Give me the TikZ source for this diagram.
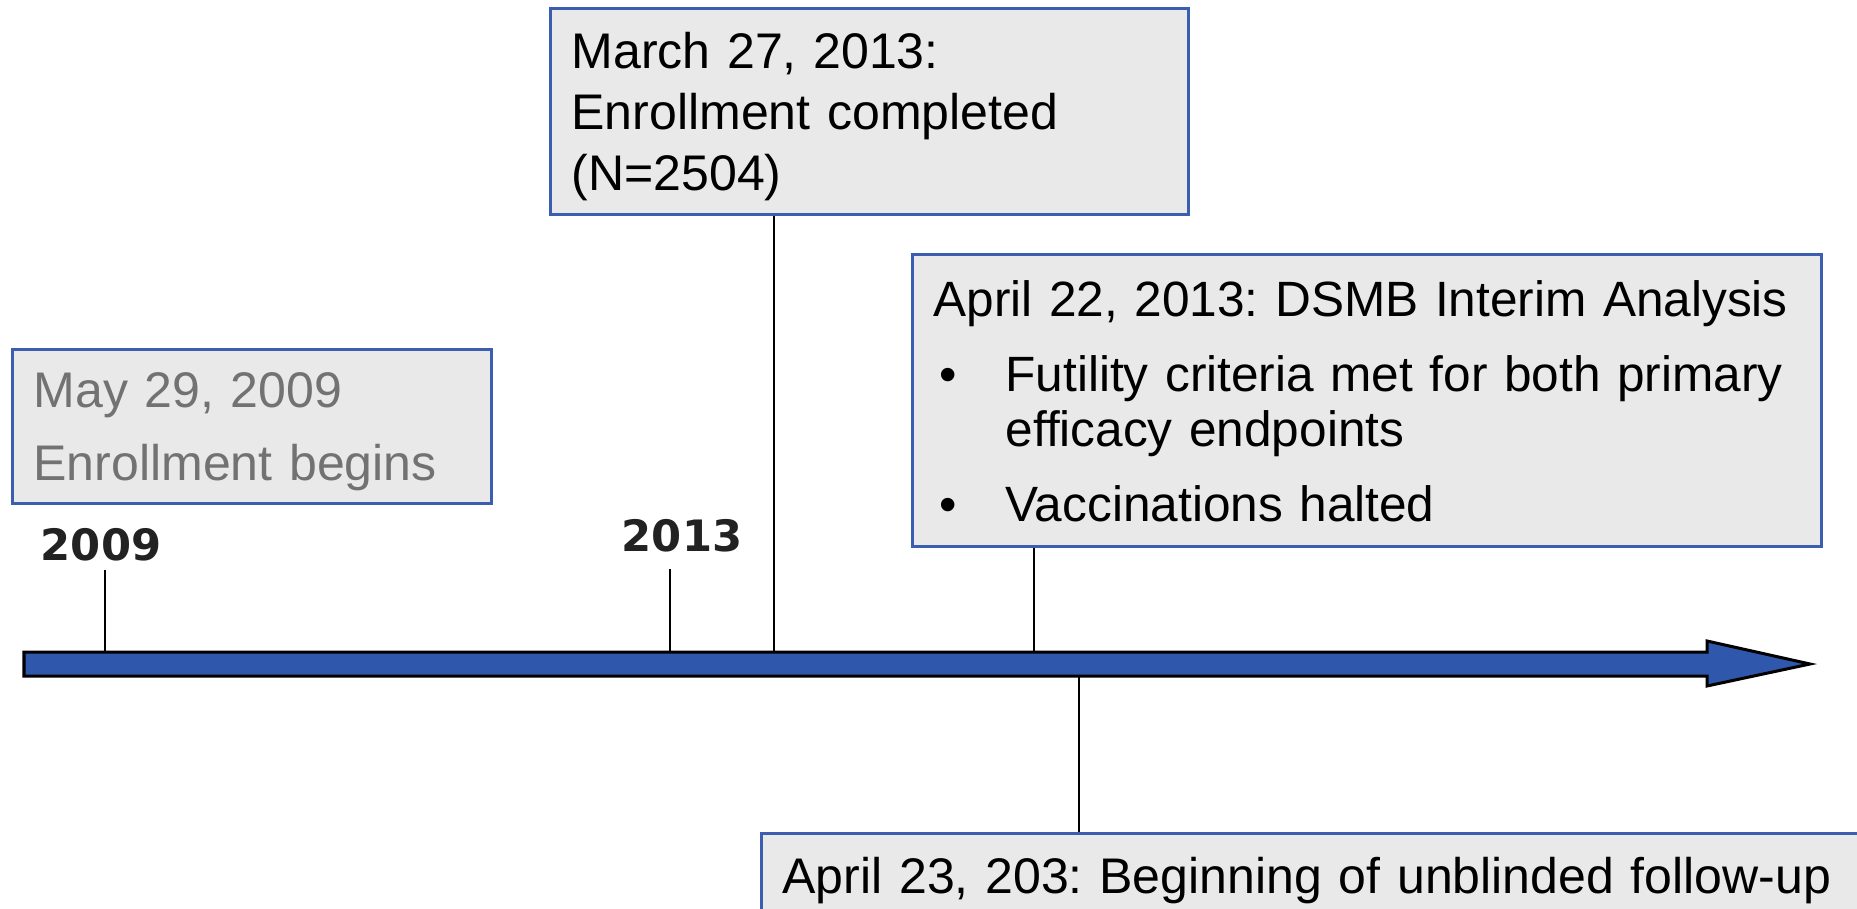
\documentclass[tikz,border=0pt]{standalone}
\usepackage{fontspec}
\setmainfont{Liberation Sans}
\newfontfamily\yearfont{DejaVu Sans}
\usetikzlibrary{calc}
\usetikzlibrary{positioning}
\definecolor{boxfill}{HTML}{E9E9E9}
\definecolor{boxline}{HTML}{3B5EB0}
\definecolor{barfill}{HTML}{2F58AD}
\definecolor{greytext}{HTML}{727272}
\definecolor{yeartext}{HTML}{222222}
\newcommand\padtop[1]{\rule{0pt}{#1}}
\newcommand\padbot[1]{\rule[-#1]{0pt}{0pt}}

\begin{document}
\frenchspacing
\begin{tikzpicture}[x=0.01cm,y=-0.01cm,inner sep=0pt,
  evbox/.style={draw=boxline,fill=boxfill,line width=0.03cm,anchor=north west,
    align=left,inner xsep=0.21cm,inner ysep=0pt,font=\fontsize{14.23}{17.36}\selectfont},
  yearlbl/.style={anchor=base,inner sep=0.09cm,text=yeartext,
    font=\yearfont\bfseries\fontsize{12.3}{14}\selectfont},
  stem/.style={line width=0.02cm}]
\useasboundingbox (0,0) rectangle (1857,909);
\clip (0,0) rectangle (1857,909);

\filldraw[fill=barfill,line width=0.03cm] (24,652) -- (1707,652) -- (1707,641) -- (1810,664)
  -- (1707,686) -- (1707,676) -- (24,676) -- cycle;
\coordinate (t09) at (105,652);
\coordinate (t13) at (670,652);
\coordinate (m27) at (774,652);
\coordinate (a22) at (1034,652);
\coordinate (a23) at (1079,676);

\node[yearlbl] (y09) at (101,560) {2009};
\node[yearlbl,inner ysep=0.17cm] (y13) at (682,551) {2013};

\node[evbox,text width=4.37cm,text=greytext,font=\fontsize{14.23}{20.77}\selectfont] (may29) at (11,348)
  {\padtop{0.58cm}May 29, 2009\\ Enrollment begins\padbot{0.23cm}};
\node[evbox,text width=5.96cm] (mar27) at (549,7)
  {\padtop{0.60cm}March 27, 2013:\\ Enrollment completed\\ (N=2504)\padbot{0.24cm}};
\node[evbox,text width=8.66cm,font=\fontsize{14.1}{15.65}\selectfont] (apr22) at (911,253)
  {\padtop{0.62cm}April 22, 2013: DSMB Interim Analysis\\[0.2cm]
   \makebox[0.72cm][l]{\hspace{0.06cm}\textbullet}Futility criteria met for both primary\\
   \hspace*{0.72cm}efficacy endpoints\\[0.2cm]
   \makebox[0.72cm][l]{\hspace{0.06cm}\textbullet}Vaccinations halted\padbot{0.25cm}};
\node[evbox,text width=11cm] (apr23) at (760,832)
  {\padtop{0.60cm}April 23, 203: Beginning of unblinded follow-up\padbot{0.4cm}};

\draw[stem] (t09) -- (t09 |- y09.south);
\draw[stem] (t13) -- (t13 |- y13.south);
\draw[stem] (mar27.south -| m27) -- (m27);
\draw[stem] (apr22.south -| a22) -- (a22);
\draw[stem] (a23) -- (apr23.north -| a23);
\end{tikzpicture}
\end{document}
